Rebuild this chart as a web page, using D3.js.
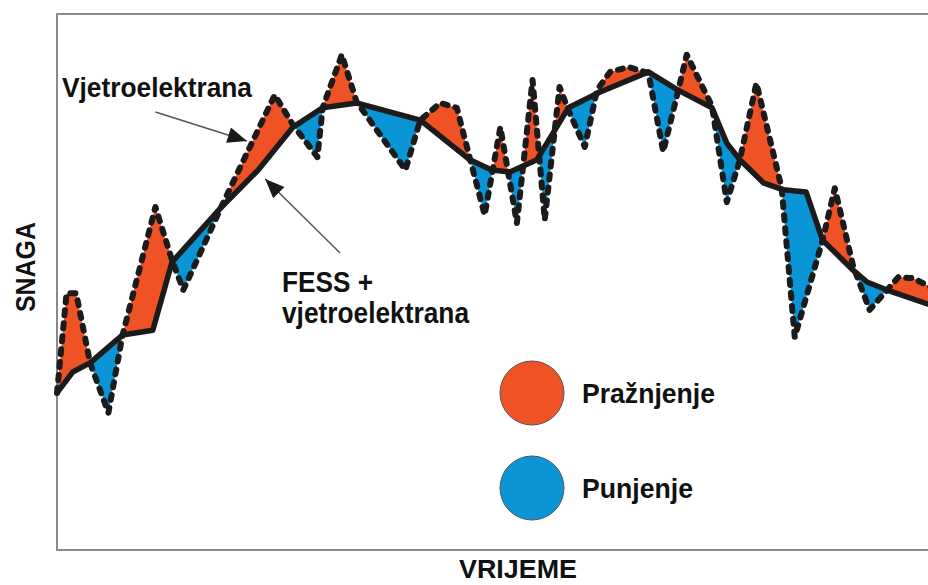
<!DOCTYPE html>
<html>
<head>
<meta charset="utf-8">
<script src="https://cdn.jsdelivr.net/npm/d3@7"></script>
<style>
  body { margin: 0; background: #fff; }
  text { font-family: "Liberation Sans", Arial, sans-serif; font-weight: bold; fill: #111; }
</style>
</head>
<body>
<svg width="928" height="585"></svg>
<script>
var svg = d3.select("svg"),
	width = +svg.attr("width"),
	height = +svg.attr("height");

//wind power (dashed line): time, power
var windT = [0, 1.1, 2.2, 3.8, 5.9, 7.5, 11.3, 13.2, 14.5, 18.8, 25.0, 27.1, 29.9, 30.5, 32.7, 34.4, 40.0, 41.7, 44.0, 45.9,
	47.4, 49.1, 50.9, 52.8, 54.6, 56.0, 57.7, 58.7, 60.6, 62.0, 63.5, 65.6, 67.9, 69.6, 71.3, 72.3, 75.2, 76.9, 78.4, 80.3,
	83.2, 84.7, 87.9, 89.3, 91.4, 93.3, 95.3, 96.6, 98.3, 101];
var windP = [29.3, 47.9, 47.9, 34.9, 25.6, 39.9, 64.0, 54.1, 48.5, 63.8, 84.9, 79.3, 73.3, 82.5, 92.4, 83.6, 70.9, 80.2, 83.4, 82.5,
	73.1, 62.5, 78.9, 61.0, 87.7, 61.6, 86.4, 82.1, 75.2, 85.8, 89.2, 90.1, 89.0, 74.3, 85.6, 92.4, 82.8, 64.9, 72.8, 87.1,
	67.5, 39.7, 57.8, 67.5, 53.0, 44.8, 48.5, 50.9, 50.7, 48.5];

//FESS + wind output (solid line): time, power
var fessT = [0, 1.8, 3.8, 7.5, 11.0, 13.2, 18.9, 23.1, 27.1, 30.5, 34.4, 41.7, 47.4, 49.9, 52.0, 55.1, 58.7, 62.3, 67.9, 71.3,
	75.2, 76.9, 78.4, 81.1, 83.4, 86.0, 87.9, 91.4, 93.0, 95.3, 101];
var fessP = [29.3, 33.2, 34.9, 40.1, 41.0, 53.7, 64.0, 70.9, 78.9, 82.5, 83.4, 80.2, 72.8, 70.9, 70.5, 72.8, 82.5, 85.4, 89.2, 85.8,
	82.5, 75.9, 72.8, 68.5, 67.2, 66.8, 57.8, 52.2, 50.0, 48.5, 45.3];

var legendLabels = ["Pražnjenje", "Punjenje"];
var colors = ["#ef5224", "#0a95d6"];

var wind = windT.map(function (t, i) { return { t: t, p: windP[i] }; });
var fess = fessT.map(function (t, i) { return { t: t, p: fessP[i] }; });

//scales
var x = d3.scaleLinear().domain([0, 100]).range([57, 928]);
var y = d3.scaleLinear().domain([0, 100]).range([550, 14]);

var line = d3.line()
	.x(function (d) { return x(d.t); })
	.y(function (d) { return y(d.p); });

//area below a series and area above a series, used for the difference fill
var areaBelow = d3.area()
	.x(function (d) { return x(d.t); })
	.y0(y(0))
	.y1(function (d) { return y(d.p); });

var areaAbove = d3.area()
	.x(function (d) { return x(d.t); })
	.y0(0)
	.y1(function (d) { return y(d.p); });

var defs = svg.append("defs");
defs.append("clipPath").attr("id", "above-fess")
	.append("path").attr("d", areaAbove(fess));
defs.append("clipPath").attr("id", "above-wind")
	.append("path").attr("d", areaAbove(wind));

defs.append("marker")
	.attr("id", "arrow")
	.attr("viewBox", "0 -5 12 10")
	.attr("refX", 12)
	.attr("refY", 0)
	.attr("markerUnits", "userSpaceOnUse")
	.attr("markerWidth", 22)
	.attr("markerHeight", 16)
	.attr("orient", "auto")
	.append("path")
	.attr("d", "M0,-5L12,0L0,5Z")
	.attr("fill", "#1a1a1a");

//frame
svg.append("rect")
	.attr("x", x(0))
	.attr("y", y(100))
	.attr("width", 900)
	.attr("height", y(0) - y(100))
	.attr("fill", "none")
	.attr("stroke", "#8a8a8a")
	.attr("stroke-width", 2);

//discharge: wind above output
svg.append("path")
	.attr("d", areaBelow(wind))
	.attr("clip-path", "url(#above-fess)")
	.attr("fill", colors[0]);

//charge: wind below output
svg.append("path")
	.attr("d", areaBelow(fess))
	.attr("clip-path", "url(#above-wind)")
	.attr("fill", colors[1]);

svg.append("path")
	.attr("d", line(fess))
	.attr("fill", "none")
	.attr("stroke", "#1b1b1b")
	.attr("stroke-width", 5.5)
	.attr("stroke-linejoin", "round");

svg.append("path")
	.attr("d", line(wind))
	.attr("fill", "none")
	.attr("stroke", "#1b1b1b")
	.attr("stroke-width", 6)
	.attr("stroke-dasharray", "5,8")
	.attr("stroke-linecap", "round")
	.attr("stroke-linejoin", "round");

//annotations with arrows
var notes = [
	{ from: [11.3, 81.7], to: [21.8, 76.3] },
	{ from: [32.5, 55.4], to: [23.9, 69.2] }
];
svg.selectAll(".note-arrow")
	.data(notes)
	.enter().append("line")
	.attr("class", "note-arrow")
	.attr("x1", function (d) { return x(d.from[0]); })
	.attr("y1", function (d) { return y(d.from[1]); })
	.attr("x2", function (d) { return x(d.to[0]); })
	.attr("y2", function (d) { return y(d.to[1]); })
	.attr("stroke", "#555")
	.attr("stroke-width", 1.5)
	.attr("marker-end", "url(#arrow)");

function label(txt, px, py, size, len) {
	return svg.append("text")
		.attr("x", px)
		.attr("y", py)
		.attr("font-size", size)
		.attr("textLength", len)
		.attr("lengthAdjust", "spacingAndGlyphs")
		.text(txt);
}

label("Vjetroelektrana", 62, 97, 28, 190);
label("FESS +", 282, 292, 29, 91);
label("vjetroelektrana", 282, 323, 29, 187);

//legend
legendLabels.forEach(function (l, i) {
	var cy = 393 + i * 95;
	svg.append("circle")
		.attr("cx", 532)
		.attr("cy", cy)
		.attr("r", 32)
		.attr("fill", colors[i])
		.attr("stroke", "#555")
		.attr("stroke-width", 1);
	label(l, 582, cy + 10, 28, i == 0 ? 133 : 111);
});

//axis titles
label("VRIJEME", 459, 578, 26, 118);
label("SNAGA", 0, 0, 28, 90)
	.attr("text-anchor", "middle")
	.attr("transform", "translate(35,267) rotate(-90)")
	.attr("x", 0);
</script>
</body>
</html>
